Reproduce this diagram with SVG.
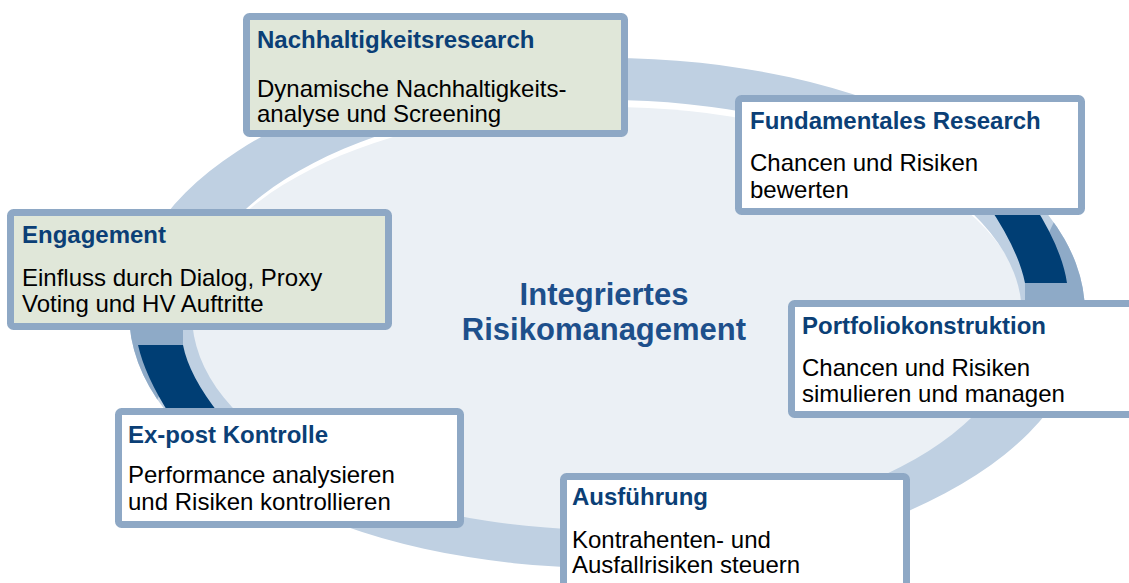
<svg xmlns="http://www.w3.org/2000/svg" width="1129" height="583" viewBox="0 0 1129 583">
  <defs>
    <style>
      .box { stroke: #8ea8c5; stroke-width: 7; }
      .green { fill: #e0e7d9; }
      .white { fill: #ffffff; }
      .title { font-family: "Liberation Sans", Arial, sans-serif; font-weight: bold; font-size: 24px; fill: #0b3f76; }
      .body { font-family: "Liberation Sans", Arial, sans-serif; font-size: 24px; fill: #000000; }
      .center { font-family: "Liberation Sans", Arial, sans-serif; font-weight: bold; font-size: 31px; fill: #1d4f8b; text-anchor: middle; }
    </style>
    <clipPath id="ringClip">
      <path clip-rule="evenodd" d="M129,313 A478,255 0 1 0 1085,313 A478,255 0 1 0 129,313 Z M192,315 A415,215 0 1 0 1022,315 A415,215 0 1 0 192,315 Z"/>
    </clipPath>
  </defs>
  <rect width="1129" height="583" fill="#ffffff"/>

  <g id="ring">
    <ellipse cx="607" cy="320" rx="419" ry="213" fill="#ebf0f5"/>
    <path fill="#bfd0e2" fill-rule="evenodd" d="M129,313 A478,255 0 1 0 1085,313 A478,255 0 1 0 129,313 Z M192,315 A415,215 0 1 0 1022,315 A415,215 0 1 0 192,315 Z"/>
    <g clip-path="url(#ringClip)">
      <path fill="#8eaac7" d="M1025,305 L1025,283 L1062,205 L1129,205 L1129,305 Z"/>
      <path fill="#003e74" d="M988,205 L1034,205 Q1062,249 1067,283 L1025,283 Q1018,249 988,205 Z"/>
      <path fill="#8eaac7" d="M80,320 L183,320 L183,345 L150,415 L80,415 Z"/>
      <path fill="#003e74" d="M138,345 L183,345 Q189,376 220,415 L170,415 Q145,376 138,345 Z"/>
    </g>
  </g>

  <g id="center-label">
    <text class="center" x="604" y="305">Integriertes</text>
    <text class="center" x="604" y="340">Risikomanagement</text>
  </g>

  <g id="node-nachhaltigkeitsresearch">
    <rect class="box green" x="246.5" y="16.5" width="378" height="117" rx="3"/>
    <text class="title" x="257" y="48">Nachhaltigkeitsresearch</text>
    <text class="body" x="257" y="97">Dynamische Nachhaltigkeits-</text>
    <text class="body" x="257" y="122">analyse und Screening</text>
  </g>

  <g id="node-fundamentales-research">
    <rect class="box white" x="738.5" y="98.5" width="343" height="113" rx="3"/>
    <text class="title" x="750" y="129">Fundamentales Research</text>
    <text class="body" x="750" y="171">Chancen und Risiken</text>
    <text class="body" x="750" y="198">bewerten</text>
  </g>

  <g id="node-engagement">
    <rect class="box green" x="10.5" y="212.5" width="378" height="114" rx="3"/>
    <text class="title" x="22" y="243">Engagement</text>
    <text class="body" x="22" y="286">Einfluss durch Dialog, Proxy</text>
    <text class="body" x="22" y="312">Voting und HV Auftritte</text>
  </g>

  <g id="node-portfoliokonstruktion">
    <rect class="box white" x="791.5" y="303.5" width="360" height="111" rx="3"/>
    <text class="title" x="802" y="334">Portfoliokonstruktion</text>
    <text class="body" x="802" y="376">Chancen und Risiken</text>
    <text class="body" x="802" y="402">simulieren und managen</text>
  </g>

  <g id="node-ex-post-kontrolle">
    <rect class="box white" x="118.5" y="411.5" width="342" height="113" rx="3"/>
    <text class="title" x="128" y="443">Ex-post Kontrolle</text>
    <text class="body" x="128" y="483">Performance analysieren</text>
    <text class="body" x="128" y="510">und Risiken kontrollieren</text>
  </g>

  <g id="node-ausfuehrung">
    <rect class="box white" x="563.5" y="476.5" width="343" height="130" rx="3"/>
    <text class="title" x="572" y="505">Ausführung</text>
    <text class="body" x="572" y="548">Kontrahenten- und</text>
    <text class="body" x="572" y="573">Ausfallrisiken steuern</text>
  </g>

  <g id="connectors"></g>
</svg>
